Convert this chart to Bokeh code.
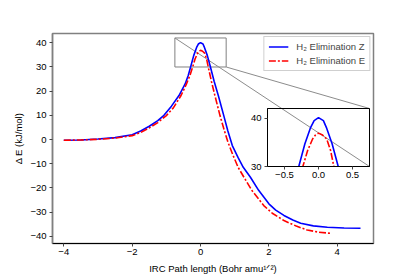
from bokeh.plotting import figure
from bokeh.models import Range1d, FixedTicker, Legend, LegendItem
from bokeh.embed import file_html
from bokeh.resources import INLINE

# ---------------- data ----------------
irc_z = [-4.0, -3.5, -3.0, -2.5, -2.0, -1.75, -1.5, -1.25, -1.07, -0.85, -0.63, -0.45,
         -0.36, -0.29, -0.2, -0.115, -0.064, 0.0, 0.072, 0.115, 0.2, 0.29, 0.4, 0.52, 0.68, 0.8,
         0.93, 1.1, 1.25, 1.46, 1.7, 2.0, 2.2, 2.44, 2.7, 2.93, 3.3, 3.71, 4.2, 4.68]
de_z = [-0.3, -0.2, 0.2, 0.8, 2.0, 3.5, 5.5, 7.8, 10.0, 13.8, 18.2, 23.0,
        26.5, 30.0, 34.7, 38.1, 39.5, 40.1, 39.5, 38.1, 34.7, 30.0, 24.0, 18.2, 9.9, 3.5,
        -2.5, -7.5, -11.5, -15.6, -21.0, -26.6, -29.2, -31.4, -33.3, -34.6, -35.7, -36.3, -36.6, -36.7]

irc_e = [-4.0, -3.5, -3.0, -2.5, -2.0, -1.75, -1.5, -1.25, -1.0, -0.8, -0.57, -0.42,
         -0.31, -0.23, -0.16, -0.087, -0.045, 0.0, 0.06, 0.12, 0.178, 0.226, 0.32, 0.42, 0.57,
         0.7, 0.8, 0.95, 1.1, 1.27, 1.5, 1.85, 2.1, 2.44, 2.8, 3.12, 3.45, 3.8]
de_e = [-0.3, -0.2, 0.1, 0.6, 1.6, 2.9, 4.8, 7.0, 9.9, 13.0, 18.2, 22.7,
        26.5, 30.0, 33.3, 35.7, 36.5, 36.9, 36.5, 35.7, 33.3, 30.0, 24.0, 18.2, 9.9,
        3.6, -1.0, -6.5, -11.5, -15.6, -21.0, -27.3, -30.5, -33.5, -35.8, -37.4, -38.3, -38.8]

series_names = ["H\u2082 Elimination Z", "H\u2082 Elimination E"]
series_colors = ["#0000ff", "#ff0000"]

main_x_ticks = [-4, -2, 0, 2, 4]
main_x_labels = ["\u22124", "\u22122", "0", "2", "4"]
main_y_ticks = [-40, -30, -20, -10, 0, 10, 20, 30, 40]
main_y_labels = ["\u221240", "\u221230", "\u221220", "\u221210", "0", "10", "20", "30", "40"]
inset_x_ticks = [-0.5, 0.0, 0.5]
inset_x_labels = ["\u22120.5", "0.0", "0.5"]
inset_y_ticks = [30, 40]
inset_y_labels = ["30", "40"]

x_label = "IRC Path length (Bohr amu\u00b9\u141f\u00b2)"
y_label = "\u0394 E (kJ/mol)"

main_xlim = (-4.33, 5.06)
main_ylim = (-43.0, 43.85)
inset_xlim = (-0.75, 0.75)
inset_ylim = (30.0, 42.0)

# ---------------- layout (Bokeh's page template has no body margin) ----------------
FONT = "Liberation Sans"
W, H = 414, 276
ML, MR, MT, MB = 52, 41, 33, 33
IL, IR, IT, IB = 267, 369, 108, 166          # inset frame, in main-figure pixels
QL, QR, QT, QB = 22, 2, 2, 18                # inset borders


def to_main(fx, fy):
    fw = W - ML - MR
    fh = H - MT - MB
    x = main_xlim[0] + (fx - ML) / fw * (main_xlim[1] - main_xlim[0])
    y = main_ylim[1] - (fy - MT) / fh * (main_ylim[1] - main_ylim[0])
    return x, y


def style_axes(fig, xt, xl, yt, yl):
    fig.xaxis.ticker = FixedTicker(ticks=xt)
    fig.yaxis.ticker = FixedTicker(ticks=yt)
    fig.xaxis.major_label_overrides = {t: s for t, s in zip(xt, xl)}
    fig.yaxis.major_label_overrides = {t: s for t, s in zip(yt, yl)}
    for ax in (fig.xaxis, fig.yaxis):
        ax.major_tick_out = 3
        ax.major_tick_in = 0
        ax.minor_tick_line_color = None
        ax.major_label_text_font = FONT
        ax.major_label_text_font_size = "9.5px"
        ax.major_label_text_color = "#000000"
        ax.major_tick_line_color = "#444444"
        ax.axis_label_text_font = FONT
        ax.axis_label_text_font_size = "9.5px"
        ax.axis_label_text_font_style = "normal"
        ax.axis_label_text_color = "#000000"
    fig.xaxis.major_label_standoff = 2
    fig.yaxis.major_label_standoff = 3
    fig.xgrid.grid_line_color = None
    fig.ygrid.grid_line_color = None


# ---------------- main figure ----------------
p = figure(width=W, height=H, output_backend="svg", toolbar_location=None,
           x_range=Range1d(*main_xlim), y_range=Range1d(*main_ylim),
           min_border_left=ML, min_border_right=MR, min_border_top=MT, min_border_bottom=MB)
style_axes(p, main_x_ticks, main_x_labels, main_y_ticks, main_y_labels)
p.xaxis.axis_label = x_label
p.yaxis.axis_label = y_label
p.xaxis.axis_label_standoff = 5
p.yaxis.axis_label_standoff = 3
p.xaxis.axis_line_color = "#000000"
p.yaxis.axis_line_color = "#808080"
p.yaxis.axis_line_width = 1.5
p.outline_line_color = "#808080"
p.outline_line_width = 1.5
p.background_fill_color = "white"
p.border_fill_color = "white"

# inset marker rectangle and connectors
p.quad(left=[inset_xlim[0]], right=[inset_xlim[1]], bottom=[inset_ylim[0]], top=[inset_ylim[1]],
       fill_color=None, line_color="#808080", line_width=1)
br = to_main(IR, IB)
tr = to_main(IR, IT)
p.segment(x0=[inset_xlim[0], inset_xlim[1]], y0=[inset_ylim[1], inset_ylim[0]],
          x1=[br[0], tr[0]], y1=[br[1], tr[1]], line_color="#8c8c8c", line_width=1)

rz = p.line(irc_z, de_z, line_color=series_colors[0], line_width=1.6)
re = p.line(irc_e, de_e, line_color=series_colors[1], line_width=1.6, line_dash="7 2 2 2")

legend = Legend(items=[LegendItem(label=series_names[0], renderers=[rz]),
                       LegendItem(label=series_names[1], renderers=[re])],
                location="top_right")
legend.margin = 3
legend.padding = 4
legend.spacing = 3
legend.label_height = 11
legend.glyph_height = 11
legend.glyph_width = 20
legend.label_standoff = 8
legend.label_text_font = FONT
legend.label_text_font_size = "9.5px"
legend.border_line_color = "#a0a0a0"
legend.border_line_width = 1
legend.background_fill_color = "white"
legend.background_fill_alpha = 1.0
p.add_layout(legend, "center")

# ---------------- inset figure (overlaid with absolute positioning) ----------------
qw = QL + (IR - IL) + QR
qh = QT + (IB - IT) + QB
q = figure(width=qw, height=qh, output_backend="svg", toolbar_location=None,
           x_range=Range1d(*inset_xlim), y_range=Range1d(*inset_ylim),
           min_border_left=QL, min_border_right=QR, min_border_top=QT, min_border_bottom=QB,
           styles={"position": "absolute",
                   "left": f"{IL - QL}px",
                   "top": f"{IT - QT}px"})
style_axes(q, inset_x_ticks, inset_x_labels, inset_y_ticks, inset_y_labels)
q.xaxis.axis_line_color = "#000000"
q.yaxis.axis_line_color = "#000000"
q.outline_line_color = "#000000"
q.outline_line_width = 1
q.background_fill_alpha = 0.0
q.border_fill_alpha = 0.0
q.line(irc_z, de_z, line_color=series_colors[0], line_width=1.6)
q.line(irc_e, de_e, line_color=series_colors[1], line_width=1.6, line_dash="7 2 2 2")

open("out.html", "w").write(file_html([p, q], INLINE))
